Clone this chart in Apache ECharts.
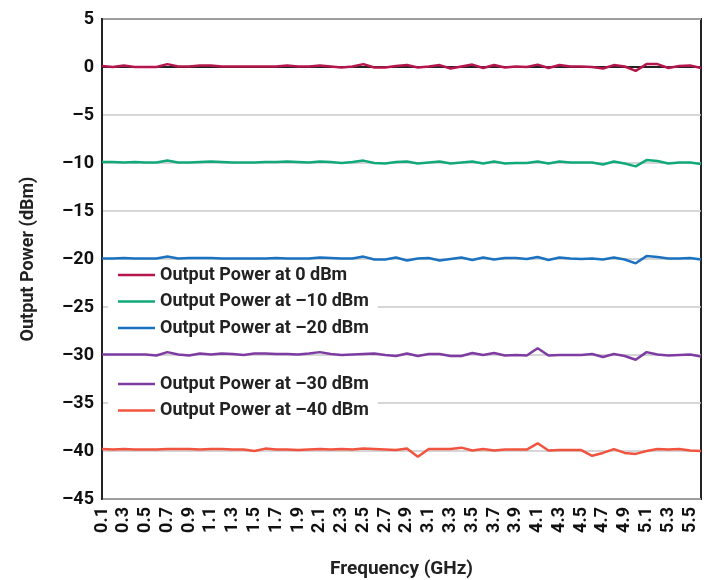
<!DOCTYPE html>
<html>
<head>
<meta charset="utf-8">
<script src="https://cdn.jsdelivr.net/npm/echarts@6/dist/echarts.min.js"></script>
<style>html,body{margin:0;padding:0;background:#fff}#c{width:723px;height:580px}</style>
</head>
<body>
<div id="c"></div>
<script>
const freqs = ['0.1','0.2','0.3','0.4','0.5','0.6','0.7','0.8','0.9','1.0','1.1','1.2','1.3','1.4','1.5','1.6','1.7','1.8','1.9','2.0','2.1','2.2','2.3','2.4','2.5','2.6','2.7','2.8','2.9','3.0','3.1','3.2','3.3','3.4','3.5','3.6','3.7','3.8','3.9','4.0','4.1','4.2','4.3','4.4','4.5','4.6','4.7','4.8','4.9','5.0','5.1','5.2','5.3','5.4','5.5','5.6'];
const seriesNames = ['Output Power at 0 dBm','Output Power at \u201310 dBm','Output Power at \u201320 dBm','Output Power at \u201330 dBm','Output Power at \u201340 dBm'];
const p0 = [0.1,0.0,0.15,0.0,0.0,0.0,0.3,0.05,0.05,0.15,0.15,0.05,0.05,0.05,0.05,0.05,0.05,0.15,0.05,0.05,0.15,0.05,-0.05,0.05,0.3,-0.05,-0.05,0.1,0.2,-0.05,0.05,0.2,-0.15,0.05,0.25,-0.1,0.2,-0.05,0.05,0.0,0.25,-0.1,0.2,0.05,0.05,0.0,-0.15,0.2,0.05,-0.4,0.3,0.3,-0.1,0.1,0.15,-0.1];
const p10 = [-9.9,-9.9,-9.95,-9.9,-9.95,-9.95,-9.75,-9.95,-9.95,-9.9,-9.85,-9.9,-9.95,-9.95,-9.95,-9.9,-9.9,-9.85,-9.9,-9.95,-9.85,-9.9,-10.0,-9.9,-9.75,-10.0,-10.05,-9.9,-9.85,-10.05,-9.95,-9.85,-10.05,-9.95,-9.85,-10.05,-9.85,-10.05,-10.0,-10.0,-9.85,-10.05,-9.85,-9.95,-9.95,-9.95,-10.15,-9.85,-10.05,-10.35,-9.7,-9.8,-10.05,-9.95,-9.95,-10.1];
const p20 = [-19.95,-19.95,-19.9,-19.95,-19.95,-19.95,-19.75,-19.95,-19.9,-19.9,-19.9,-19.95,-19.95,-19.95,-19.95,-19.95,-19.9,-19.95,-19.95,-19.95,-19.85,-19.9,-19.95,-19.95,-19.75,-20.05,-20.05,-19.85,-20.15,-19.95,-19.9,-20.15,-20.0,-19.85,-20.1,-19.85,-20.05,-19.9,-19.9,-20.0,-19.8,-20.1,-19.85,-19.95,-20.0,-19.95,-20.05,-19.85,-20.05,-20.45,-19.7,-19.8,-19.95,-19.95,-19.9,-20.05];
const p30 = [-29.95,-29.95,-29.95,-29.95,-29.95,-30.05,-29.7,-29.95,-30.05,-29.85,-29.95,-29.85,-29.9,-30.0,-29.85,-29.85,-29.9,-29.9,-29.95,-29.85,-29.7,-29.9,-30.0,-29.95,-29.9,-29.85,-30.0,-30.1,-29.85,-30.1,-29.9,-29.9,-30.1,-30.1,-29.8,-30.0,-29.8,-30.05,-30.0,-30.05,-29.3,-30.05,-30.0,-30.0,-30.0,-29.9,-30.2,-29.9,-30.1,-30.5,-29.7,-29.95,-30.05,-30.0,-29.95,-30.15];
const p40 = [-39.8,-39.85,-39.8,-39.85,-39.85,-39.85,-39.8,-39.8,-39.8,-39.85,-39.8,-39.8,-39.85,-39.85,-40.0,-39.75,-39.85,-39.85,-39.9,-39.85,-39.8,-39.85,-39.8,-39.85,-39.75,-39.8,-39.85,-39.9,-39.75,-40.6,-39.8,-39.8,-39.8,-39.65,-39.95,-39.8,-39.95,-39.85,-39.85,-39.85,-39.2,-39.95,-39.9,-39.9,-39.9,-40.5,-40.2,-39.8,-40.2,-40.3,-40.0,-39.8,-39.85,-39.8,-39.95,-40.0];
const yTicks = {min: -45, max: 5, step: 5};
const colors = ['#b5174a','#12a97a','#1a72c0','#7e3ca2','#f2533f'];

const dataSets = [p0, p10, p20, p30, p40];
const font = 'Roboto, "Liberation Sans", sans-serif';
const chart = echarts.init(document.getElementById('c'), null, {renderer: 'canvas'});
const legendText = {fontFamily: font, fontWeight: 'bold', fontSize: 18, color: '#222', lineHeight: 20};
const legendBase = {orient: 'vertical', left: 108, itemWidth: 37, itemHeight: 2.5, itemGap: 6.5, icon: 'rect',
  backgroundColor: '#fff', padding: [3, 9, 3, 10], textStyle: legendText, z: 10};
chart.setOption({
  animation: false,
  backgroundColor: '#fff',
  grid: {left: 102, right: 22, top: 19, bottom: 81, outerBoundsMode: 'none', containLabel: false,
    show: true, borderColor: '#222', borderWidth: 2, backgroundColor: 'transparent'},
  legend: [
    Object.assign({data: seriesNames.slice(0,3), top: 262}, legendBase),
    Object.assign({data: seriesNames.slice(3), top: 371}, legendBase)
  ],
  xAxis: {
    type: 'category', data: freqs, boundaryGap: false,
    name: 'Frequency (GHz)', nameLocation: 'middle', nameGap: 61,
    nameTextStyle: {fontFamily: font, fontWeight: 'bold', fontSize: 19, color: '#222'},
    axisLine: {show: true, lineStyle: {color: '#222', width: 2}},
    axisTick: {show: false},
    axisLabel: {interval: 1, rotate: 90, margin: 8, fontFamily: font, fontWeight: 'bold', fontSize: 18, color: '#111'},
    splitLine: {show: false}
  },
  yAxis: {
    type: 'value', min: yTicks.min, max: yTicks.max, interval: yTicks.step,
    name: 'Output Power (dBm)', nameLocation: 'middle', nameGap: 65, nameRotate: 90,
    nameTextStyle: {fontFamily: font, fontWeight: 'bold', fontSize: 18, color: '#222'},
    axisLine: {show: true, lineStyle: {color: '#222', width: 2}},
    axisTick: {show: false},
    axisLabel: {margin: 8, fontFamily: font, fontWeight: 'bold', fontSize: 18, color: '#111',
      formatter: v => String(v).replace('-', '\u2013')},
    splitLine: {show: true, lineStyle: {color: '#c8c8c8', width: 1.5}}
  },
  series: dataSets.map((d, k) => ({
    name: seriesNames[k], type: 'line', data: d, symbol: 'none', smooth: false,
    color: colors[k], lineStyle: {width: 2.5, color: colors[k]}, z: 3
  }))
});
</script>
</body>
</html>
